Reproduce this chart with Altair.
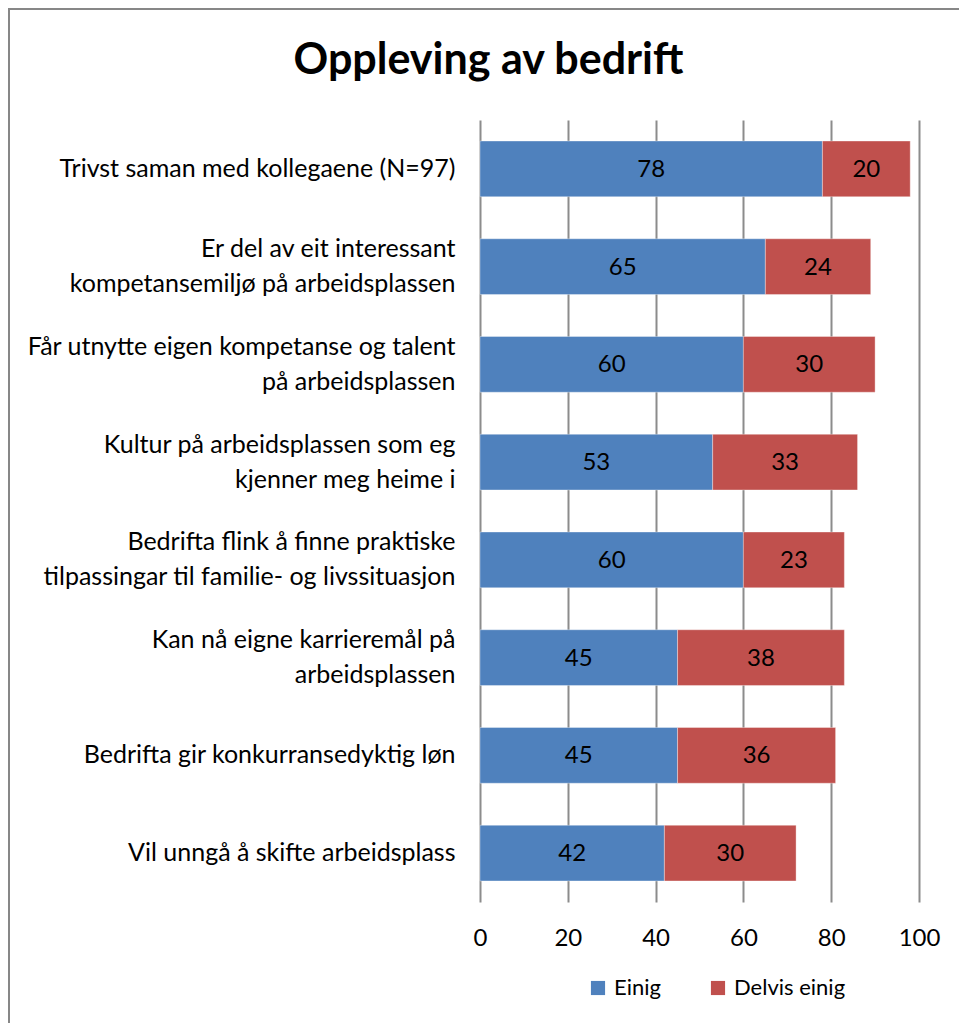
import altair as alt
import pandas as pd

# Survey statements (| marks a line break in the axis label)
statements = [
    "Trivst saman med kollegaene (N=97)",
    "Er del av eit interessant|kompetansemiljø på arbeidsplassen",
    "Får utnytte eigen kompetanse og talent|på arbeidsplassen",
    "Kultur  på arbeidsplassen som eg|kjenner meg heime i",
    "Bedrifta flink å finne praktiske|tilpassingar til familie- og livssituasjon",
    "Kan nå eigne karrieremål på|arbeidsplassen",
    "Bedrifta gir konkurransedyktig løn",
    "Vil unngå å skifte arbeidsplass",
]
einig = [78, 65, 60, 53, 60, 45, 45, 42]
delvis_einig = [20, 24, 30, 33, 23, 38, 36, 30]

series_names = ["Einig", "Delvis einig"]
series_colors = ["#4F81BD", "#C0504D"]
x_ticks = [0, 20, 40, 60, 80, 100]
chart_title = "Oppleving av bedrift"

rows = []
for s, a, b in zip(statements, einig, delvis_einig):
    rows.append({"statement": s, "series": series_names[0], "value": a, "order": 0})
    rows.append({"statement": s, "series": series_names[1], "value": b, "order": 1})
df = pd.DataFrame(rows)

FONT = "Lato"
GRID = "#8C8C8C"
LINE_H = 35

y_enc = alt.Y(
    "statement:N",
    sort=statements,
    title=None,
    scale=alt.Scale(paddingInner=0.43, paddingOuter=0.215),
    axis=alt.Axis(
        labelExpr="split(datum.label, '|')",
        labelFontSize=25,
        labelFont=FONT,
        labelColor="#000000",
        labelPadding=25,
        labelLineHeight=LINE_H,
        labelLimit=500,
        # lift two-line labels so the block is centred on its bar
        labelOffset={
            "condition": {"test": "indexof(datum.value, '|') >= 0", "value": -LINE_H / 2},
            "value": 0,
        },
        ticks=False,
        domain=False,
        grid=False,
    ),
)

x_enc = alt.X(
    "value:Q",
    stack="zero",
    title=None,
    scale=alt.Scale(domain=[0, 100], nice=False),
    axis=alt.Axis(
        values=x_ticks,
        grid=True,
        gridColor=GRID,
        gridWidth=2,
        gridOpacity=1,
        domain=False,
        ticks=False,
        labelFlush=False,
        labelFontSize=24,
        labelFont=FONT,
        labelColor="#000000",
        labelPadding=24,
    ),
)

base = alt.Chart(df).encode(
    y=y_enc,
    order=alt.Order("order:Q"),
)

bars = base.mark_bar(stroke="#FFFFFF", strokeOpacity=0.35, strokeWidth=1).encode(
    x=x_enc,
    color=alt.Color(
        "series:N",
        sort=series_names,
        scale=alt.Scale(domain=series_names, range=series_colors),
        legend=alt.Legend(
            title=None,
            orient="none",
            legendX=107,
            legendY=857,
            direction="horizontal",
            symbolType="square",
            symbolSize=200,
            symbolStrokeWidth=0,
            labelFontSize=22,
            labelFont=FONT,
            labelColor="#000000",
            columnPadding=46,
            labelOffset=5,
        ),
    ),
)

# Value labels centred in each segment
labels = (
    alt.Chart(df)
    .transform_stack(
        stack="value",
        groupby=["statement"],
        as_=["v0", "v1"],
        sort=[alt.SortField("order", order="ascending")],
    )
    .transform_calculate(mid="(datum.v0 + datum.v1) / 2")
    .mark_text(font=FONT, fontSize=24, color="#000000", baseline="middle", dy=1)
    .encode(
        x=alt.X("mid:Q", scale=alt.Scale(domain=[0, 100], nice=False)),
        y=alt.Y("statement:N", sort=statements),
        text=alt.Text("value:Q"),
    )
)

# Outer chart frame
frame = alt.Chart(pd.DataFrame({"f": [0]})).mark_rect(
    fill=None, stroke="#878787", strokeWidth=2
).encode(
    x=alt.value(-471),
    x2=alt.value(500),
    y=alt.value(-111),
    y2=alt.value(920),
)

# Chart heading, centred over the whole frame
heading = alt.Chart(pd.DataFrame({"t": [chart_title]})).mark_text(
    font=FONT, fontSize=43, fontWeight="bold", color="#000000",
    align="center", baseline="alphabetic",
).encode(
    text="t:N",
    x=alt.value(8.5),
    y=alt.value(-46),
)

chart = (
    alt.layer(frame, bars, labels, heading)
    .properties(
        width=439,
        height=782,
        padding={"left": 480, "top": 120, "right": 40, "bottom": 121},
        autosize=alt.AutoSizeParams(type="none"),
        background="#FFFFFF",
    )
    .configure_view(stroke=None)
)

chart.save("out.html", embed_options={"renderer": "svg", "actions": False})
